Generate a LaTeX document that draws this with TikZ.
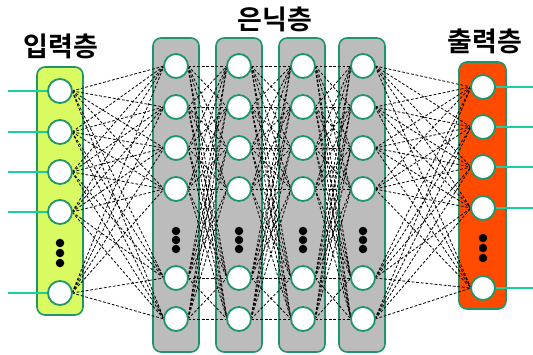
\documentclass[tikz,border=0pt]{standalone}
\usepackage{fontspec}
\newfontfamily\krfont{Noto Sans CJK KR Bold}
\definecolor{bordergreen}{RGB}{30,150,105}
\definecolor{linegreen}{RGB}{30,205,160}
\definecolor{inputfill}{RGB}{218,250,98}
\definecolor{hiddenfill}{RGB}{188,188,188}
\definecolor{outputfill}{RGB}{255,75,0}
\tikzset{
  layerbox/.style={draw=bordergreen, line width=1.6pt, rounded corners=8pt, minimum width=46pt, inner sep=0pt},
  neuron/.style={circle, draw=bordergreen, line width=1.8pt, fill=white, minimum size=24pt, inner sep=0pt},
  conn/.style={draw=black, line width=0.8pt, dash pattern=on 2.8pt off 1.8pt},
  ioline/.style={draw=linegreen, line width=2.2pt},
  dot/.style={circle, fill=black, minimum size=8.5pt, inner sep=0pt},
  title/.style={font=\krfont\fontsize{27}{29}\selectfont, inner sep=0pt}
}
\begin{document}
\begin{tikzpicture}[x=1pt,y=-1pt]
\useasboundingbox (0,0) rectangle (533,354);
% boxes
\node[layerbox, fill=inputfill, minimum height=248pt] (bin) at (60,191) {};
\foreach \x [count=\l] in {176,239,302,362}{
  \node[layerbox, fill=hiddenfill, minimum height=314pt] (bh\l) at (\x,195) {};
}
\node[layerbox, fill=outputfill, minimum height=247pt, minimum width=47pt] (bout) at (482.5,185.5) {};
% titles
\node[title] (tin) at (61,46) {입력층};
\node[title] (thid) at (275,19) {은닉층};
\node[title] (tout) at (485,41) {출력층};
% node coordinates (placed as coordinates first)
\foreach \y [count=\k] in {91,132,172,212,293}{
  \coordinate (ci\k) at (60,\y);
}
\foreach \x [count=\l] in {176,239,303,363}{
  \foreach \y [count=\k] in {66,107,148,189,278,319}{
    \coordinate (ch\l-\k) at (\x,\y);
  }
}
\foreach \y [count=\k] in {87,127,167,208,288}{
  \coordinate (co\k) at (483,\y);
}
% connections
\foreach \a in {1,...,5}{
  \foreach \b in {1,...,6}{
    \draw[conn] ([xshift=12pt]ci\a) -- ([xshift=-12pt]ch1-\b);
  }
}
\foreach \l [evaluate=\l as \m using int(\l+1)] in {1,2,3}{
  \foreach \a in {1,...,6}{
    \foreach \b in {1,...,6}{
      \draw[conn] ([xshift=12pt]ch\l-\a) -- ([xshift=-12pt]ch\m-\b);
    }
  }
}
\foreach \a in {1,...,6}{
  \foreach \b in {1,...,5}{
    \draw[conn] ([xshift=12pt]ch4-\a) -- ([xshift=-12pt]co\b);
  }
}
% input / output lines
\foreach \y [count=\k] in {91,132,172,212,293}{
  \coordinate (lin\k) at (8,\y);
  \draw[ioline] (lin\k) -- (ci\k);
}
\foreach \y [count=\k] in {87,127,167,208,288}{
  \coordinate (lout\k) at (533,\y);
  \draw[ioline] (co\k) -- (lout\k);
}
% neurons
\foreach \k in {1,...,5}{
  \node[neuron] (i\k) at (ci\k) {};
  \node[neuron] (o\k) at (co\k) {};
}
\foreach \l in {1,...,4}{
  \foreach \k in {1,...,6}{
    \node[neuron] (h\l-\k) at (ch\l-\k) {};
  }
}
% dots
\foreach \d [count=\j] in {243,253,263}{
  \node[dot] (di\j) at (60,\d) {};
}
\foreach \x [count=\l] in {176,239,303,363}{
  \foreach \d [count=\j] in {231,240,249}{
    \node[dot] (dh\l-\j) at (\x,\d) {};
  }
}
\foreach \d [count=\j] in {238,248,258}{
  \node[dot] (do\j) at (483,\d) {};
}
\end{tikzpicture}
\end{document}
